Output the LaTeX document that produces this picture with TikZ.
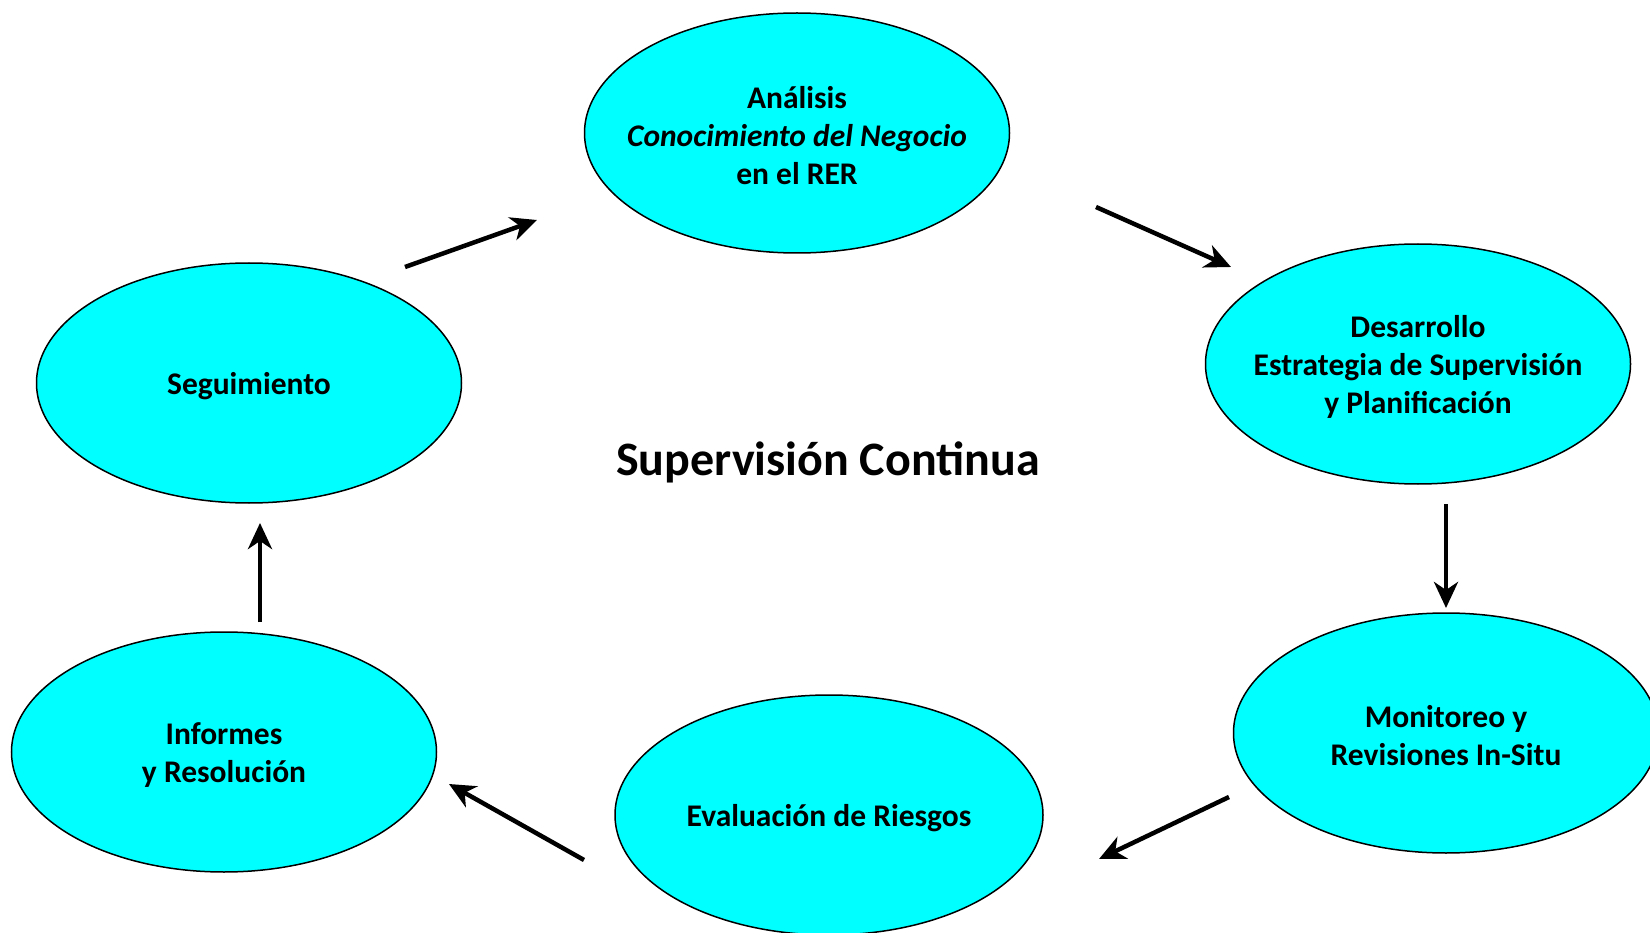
\documentclass[tikz,border=0pt]{standalone}
\usepackage{fontspec}
\setmainfont{Carlito}
\usetikzlibrary{arrows.meta,shapes.geometric}
\definecolor{nodecyan}{RGB}{0,255,255}
\tikzset{
  stage/.style={ellipse, draw=black, line width=1.5pt, fill=nodecyan, inner sep=0pt,
    minimum width=425pt, minimum height=240pt},
  stagetext/.style={align=center, inner sep=0pt, yshift=-3pt,
    font=\fontsize{31.5}{38}\selectfont\bfseries},
  flow/.style={line width=4.5pt, -{Stealth[length=26pt,width=24pt,inset=8pt]}},
}
\begin{document}
\begin{tikzpicture}[x=1pt,y=-1pt]
\useasboundingbox (0,0) rectangle (1650,933);
\node[stage, label={[stagetext]center:{Análisis\\\textit{Conocimiento del Negocio}\\en el RER}}] (ana) at (797,133) {};
\node[stage, label={[stagetext]center:{Desarrollo\\Estrategia de Supervisión\\y Planificación}}] (des) at (1418,364) {};
\node[stage, label={[stagetext]center:{Monitoreo y\\Revisiones In-Situ}}] (mon) at (1446,733) {};
\node[stage, minimum width=428pt, label={[stagetext]center:{Evaluación de Riesgos}}] (eva) at (829,815) {};
\node[stage, label={[stagetext]center:{Informes\\y Resolución}}] (inf) at (224,752) {};
\node[stage, label={[stagetext]center:{Seguimiento}}] (seg) at (249,383) {};
\node[font=\fontsize{48}{56}\selectfont\bfseries] (title) at (828,462) {Supervisión Continua};
\coordinate (a1s) at (405,267); \coordinate (a1e) at (537,220);
\coordinate (a2s) at (1096,207); \coordinate (a2e) at (1231,267);
\coordinate (a3s) at (1446,504); \coordinate (a3e) at (1446,608);
\coordinate (a4s) at (1229,797); \coordinate (a4e) at (1099,859);
\coordinate (a5s) at (584,860); \coordinate (a5e) at (449,784);
\coordinate (a6s) at (260,622); \coordinate (a6e) at (260,523);
\draw[flow] (a1s) -- (a1e);
\draw[flow] (a2s) -- (a2e);
\draw[flow] (a3s) -- (a3e);
\draw[flow] (a4s) -- (a4e);
\draw[flow] (a5s) -- (a5e);
\draw[flow] (a6s) -- (a6e);
\end{tikzpicture}
\end{document}
